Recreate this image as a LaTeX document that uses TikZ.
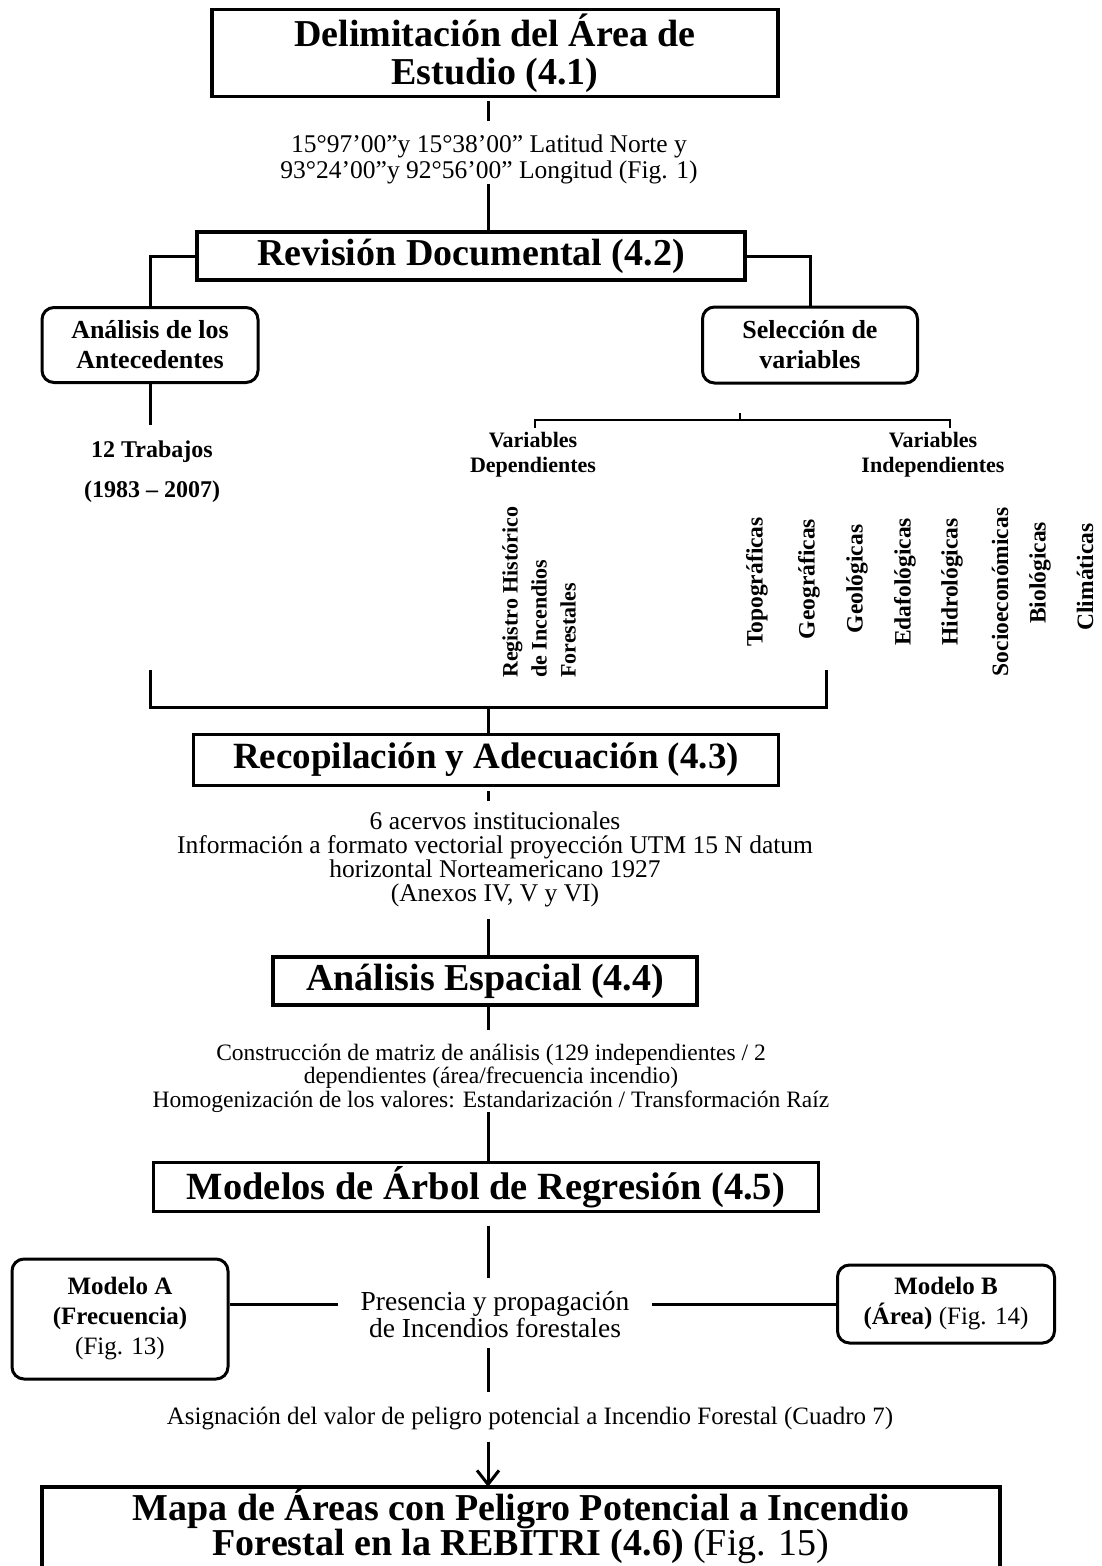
\documentclass[tikz,border=0pt]{standalone}
\usepackage{fontspec}
\setmainfont{Liberation Serif}
\usetikzlibrary{arrows.meta,calc}
\begin{document}
\begin{tikzpicture}[x=1pt,y=-1pt,
 box/.style={draw, line width=3.5pt, inner sep=0pt, align=center, font=\bfseries\fontsize{37}{38}\selectfont},
 rbox/.style={draw, line width=3pt, rounded corners=12pt, inner sep=0pt, align=center, font=\bfseries\fontsize{25}{30}\selectfont},
 txt/.style={align=center, inner sep=0pt, font=\fontsize{24.5}{24}\selectfont},
 conn/.style={line width=3pt},
 vlab/.style={rotate=90, inner sep=0pt, font=\bfseries\fontsize{22}{29}\selectfont}]

\useasboundingbox (0,0) rectangle (1101,1566);
\fill[white] (0,0) rectangle (1101,1566);

\coordinate (sp) at (488,0);

% Box 1
\node[box, font=\bfseries\fontsize{38}{38}\selectfont, minimum width=566pt, minimum height=87pt] (b1) at (495,53) {Delimitación del Área de\\Estudio (4.1)};
\node[txt, font=\fontsize{25.5}{26}\selectfont] (lat) at (489,159) {15°97’00”y 15°38’00” Latitud Norte y\\93°24’00”y 92°56’00” Longitud (Fig. 1)};
\draw[conn] ([yshift=-3pt]b1.south -| sp) -- ([yshift=13pt]lat.north -| sp);

% Box 2
\node[box, font=\bfseries\fontsize{38}{38}\selectfont, minimum width=548pt, minimum height=48pt] (b2) at (471,256) {Revisión Documental (4.2)};
\draw[conn] (lat.south -| sp) -- (b2.north -| sp);

\node[rbox, font=\bfseries\fontsize{26}{30}\selectfont, minimum width=216pt, minimum height=75pt] (ant) at (150,345) {Análisis de los\\Antecedentes};
\node[rbox, font=\bfseries\fontsize{26}{30}\selectfont, minimum width=215pt, minimum height=76pt] (sel) at (810,345) {Selección de\\variables};
\draw[conn] (b2.west) -| (ant.north);
\draw[conn] (b2.east) -| (sel.north);

\node[txt, font=\bfseries\fontsize{24}{40}\selectfont] (trab) at (152,472) {12 Trabajos\\(1983 – 2007)};
\draw[conn] (ant.south) -- ([yshift=16pt]trab.north -| ant.south);

% upper bracket
\coordinate (brL) at (535,428);
\coordinate (brR) at (950,428);
\coordinate (brM) at (740,420);
\coordinate (brT) at (740,413);
\draw[conn, line width=2.5pt] (brL) |- (brM) -| (brR);
\draw[conn, line width=2pt] (brM) -- (brT);

\node[txt, font=\bfseries\fontsize{22}{25}\selectfont] (dep) at (533,455) {Variables\\Dependientes};
\node[txt, font=\bfseries\fontsize{22}{25}\selectfont] (indep) at (933,455) {Variables\\Independientes};

% rotated labels
\node[vlab, align=left, anchor=west] (reg) at (539,678) {Registro Histórico\\de Incendios\\Forestales};
\node[vlab, font=\bfseries\fontsize{23.5}{29}\selectfont] (topo) at (757,582) {Topográficas};
\node[vlab, font=\bfseries\fontsize{23.5}{29}\selectfont] (geog) at (809,579) {Geográficas};
\node[vlab, font=\bfseries\fontsize{23.5}{29}\selectfont] (geol) at (857,579) {Geológicas};
\node[vlab, font=\bfseries\fontsize{23.5}{29}\selectfont] (edaf) at (905,582) {Edafológicas};
\node[vlab, font=\bfseries\fontsize{23.5}{29}\selectfont] (hidr) at (952,582) {Hidrológicas};
\node[vlab, font=\bfseries\fontsize{23.5}{29}\selectfont] (soci) at (1000,592) {Socioeconómicas};
\node[vlab, font=\bfseries\fontsize{23.5}{29}\selectfont] (biol) at (1040,573) {Biológicas};
\node[vlab, font=\bfseries\fontsize{23.5}{29}\selectfont] (clim) at (1085,577) {Climáticas};

% lower bracket
\coordinate (lbL) at (150,670);
\coordinate (lbR) at (826,670);
\coordinate (lbM) at (488,707);
\draw[conn] (lbL) |- (lbM) -| (lbR);

% Box 3
\node[box, minimum width=585pt, minimum height=51pt] (b3) at (486,760) {Recopilación y Adecuación (4.3)};
\draw[conn] (lbM) -- (b3.north -| lbM);

\node[txt, font=\fontsize{25.5}{24}\selectfont] (info) at (495,859) {6 acervos institucionales\\Información a formato vectorial proyección UTM 15 N datum\\horizontal Norteamericano 1927\\(Anexos IV, V y VI)};
\draw[conn] ([yshift=-4pt]b3.south -| sp) -- ([yshift=10pt]info.north -| sp);

% Box 4
\node[box, font=\bfseries\fontsize{38}{38}\selectfont, minimum width=424pt, minimum height=48pt] (b4) at (485,981) {Análisis Espacial (4.4)};
\draw[conn] ([yshift=-12pt]info.south -| sp) -- (b4.north -| sp);

\node[txt, font=\fontsize{23.5}{23.5}\selectfont] (cons) at (491,1078) {Construcción de matriz de análisis (129 independientes / 2\\dependientes (área/frecuencia incendio)\\Homogenización de los valores: Estandarización / Transformación Raíz};
\draw[conn] (b4.south -| sp) -- ([yshift=14pt]cons.north -| sp);

% Box 5
\node[box, font=\bfseries\fontsize{38.5}{38}\selectfont, minimum width=665pt, minimum height=49pt] (b5) at (486,1187) {Modelos de Árbol de Regresión (4.5)};
\draw[conn] (cons.south -| sp) -- (b5.north -| sp);

\node[txt, font=\fontsize{27.5}{27}\selectfont] (pres) at (495,1315) {Presencia y propagación\\de Incendios forestales};
\draw[conn] ([yshift=-13pt]b5.south -| sp) -- ([yshift=14pt]pres.north -| sp);

\node[rbox, minimum width=216pt, minimum height=120pt] (modA) at (120,1319) {Modelo A\\(Frecuencia)\\{\mdseries (Fig. 13)}};
\node[rbox, minimum width=217pt, minimum height=78pt] (modB) at (946,1304) {Modelo B\\(Área) {\mdseries (Fig. 14)}};
\draw[conn] ([yshift=11pt]pres.west -| modA.east) -- ([yshift=11pt, xshift=-22pt]pres.west);
\draw[conn] ([yshift=11pt, xshift=22pt]pres.east) -- ([yshift=11pt]pres.east -| modB.west);

\node[txt, font=\fontsize{25}{24}\selectfont] (asig) at (530,1418) {Asignación del valor de peligro potencial a Incendio Forestal (Cuadro 7)};
\draw[conn] ([yshift=-10pt]pres.south -| sp) -- ([yshift=14pt]asig.north -| sp);

% Box 6 (bottom edge runs off the page)
\node[inner sep=0pt, align=center, font=\bfseries\fontsize{38}{35}\selectfont, minimum width=958pt, minimum height=78pt] (b6) at (521,1526) {Mapa de Áreas con Peligro Potencial a Incendio\\Forestal en la REBITRI (4.6) {\mdseries (Fig. 15)}};
\draw[line width=3.5pt] ([yshift=-30pt]b6.south west) |- (b6.north east) -- ([yshift=-30pt]b6.south east);
\draw[conn, -{Straight Barb[length=14pt,width=22pt]}] ([yshift=-12pt]asig.south -| sp) -- (b6.north -| sp);

\end{tikzpicture}
\end{document}
